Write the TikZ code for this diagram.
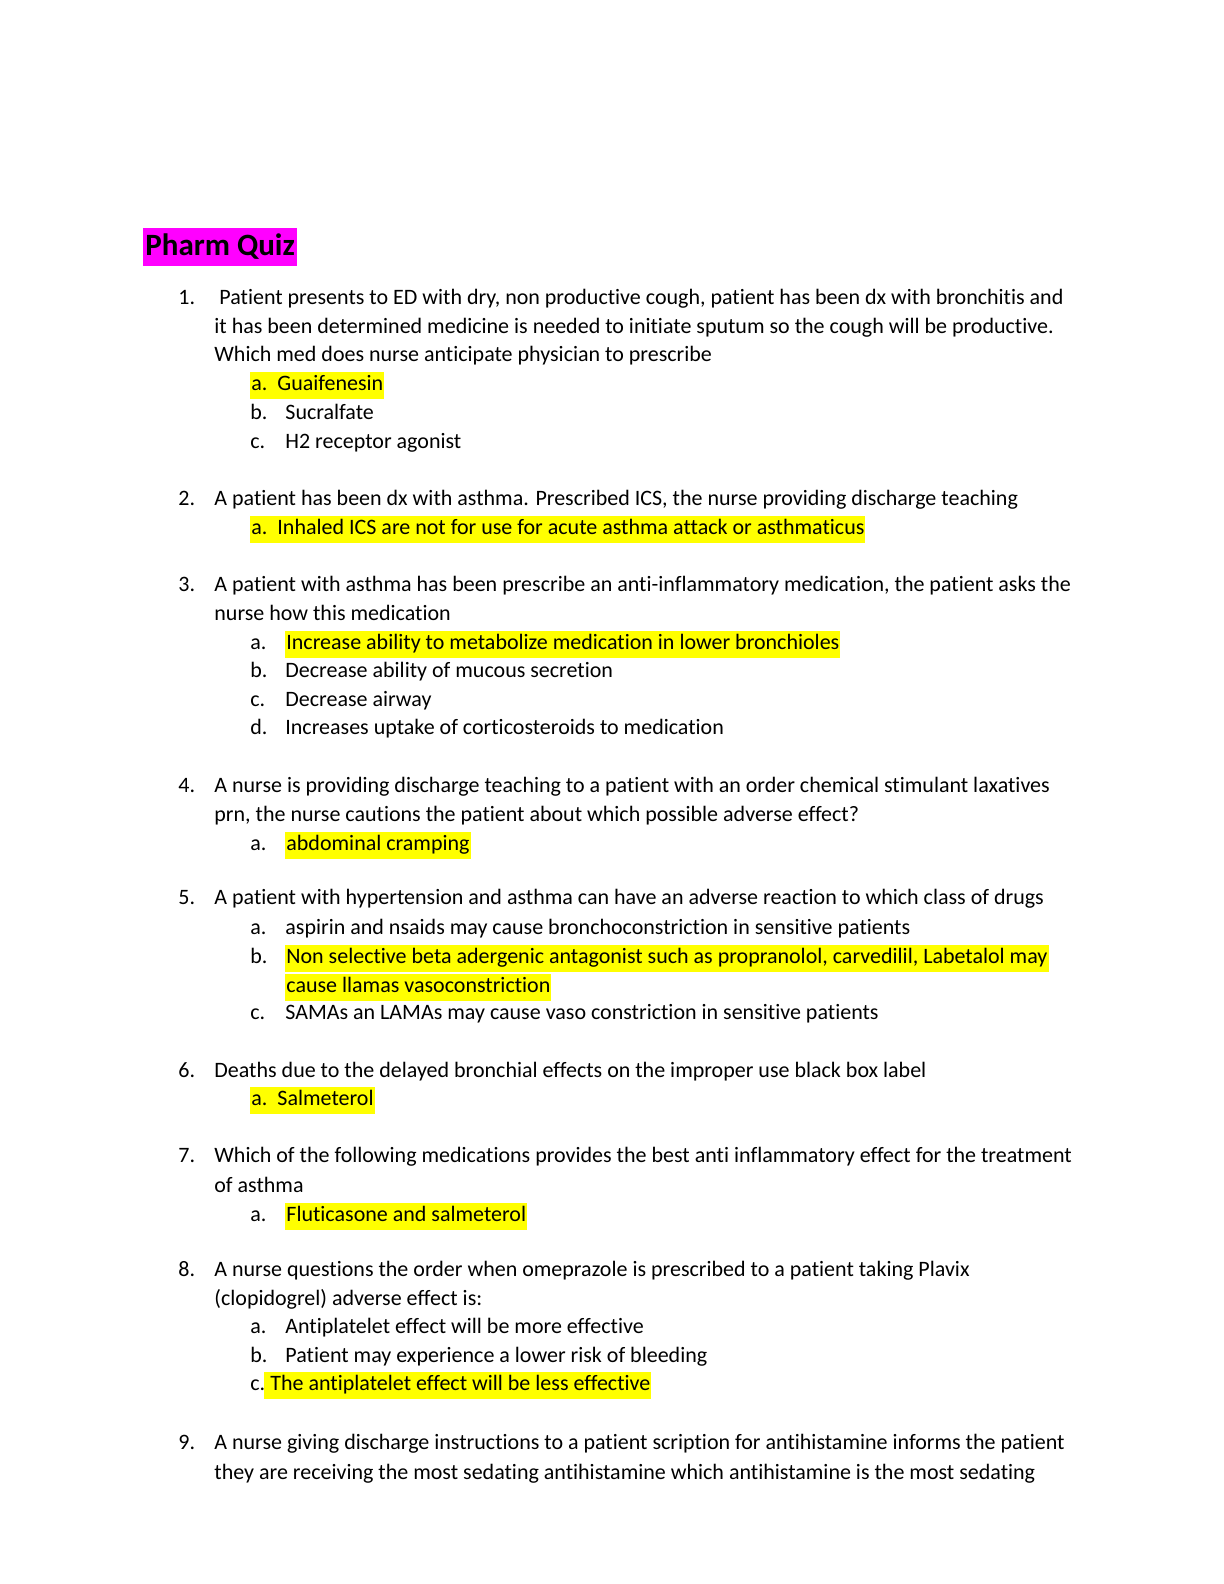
\documentclass[tikz,border=0pt]{standalone}
\usepackage{fontspec}
\setmainfont{Carlito}[Ligatures={NoCommon,NoContextual}]
\usepackage{tikz}
\definecolor{hlpink}{RGB}{255,0,255}
\definecolor{hlyellow}{RGB}{255,255,0}

\begin{document}
\begin{tikzpicture}[x=0.5pt,y=-0.5pt,
  txt/.style={anchor=west,inner sep=0pt,font=\fontsize{11}{13}\selectfont,text height=8pt,text depth=2.5pt},
  hl/.style={txt,fill=hlyellow,inner xsep=0.5pt,inner ysep=1.5pt}]
\useasboundingbox (0,0) rectangle (1224,1584);

% title
\node[anchor=west,fill=hlpink,inner xsep=1pt,inner ysep=3pt,font=\fontsize{15.5}{18}\selectfont\bfseries] (title) at (143,247) {Pharm Quiz};

% question 1
\node[txt] (n1) at (178,299) {1.};
\node[txt] (q1a) at (219,299) {Patient presents to ED with dry, non productive cough, patient has been dx with bronchitis and};
\node[txt] (q1b) at (214,328) {it has been determined medicine is needed to initiate sputum so the cough will be productive.};
\node[txt] (q1c) at (214,356) {Which med does nurse anticipate physician to prescribe};
\node[hl] (a1a) at (250,385) {a.\ \ Guaifenesin};
\node[txt] (l1b) at (250,414) {b.};
\node[txt] (a1b) at (285,414) {Sucralfate};
\node[txt] (l1c) at (250,443) {c.};
\node[txt] (a1c) at (285,443) {H2 receptor agonist};

% question 2
\node[txt] (n2) at (178,500) {2.};
\node[txt] (q2a) at (214,500) {A patient has been dx with asthma. Prescribed ICS, the nurse providing discharge teaching};
\node[hl] (a2a) at (250,529) {a.\ \ Inhaled ICS are not for use for acute asthma attack or asthmaticus};

% question 3
\node[txt] (n3) at (178,586) {3.};
\node[txt] (q3a) at (214,586) {A patient with asthma has been prescribe an anti-inflammatory medication, the patient asks the};
\node[txt] (q3b) at (214,615) {nurse how this medication};
\node[txt] (l3a) at (250,644) {a.};
\node[hl] (a3a) at (285,644) {Increase ability to metabolize medication in lower bronchioles};
\node[txt] (l3b) at (250,672) {b.};
\node[txt] (a3b) at (285,672) {Decrease ability of mucous secretion};
\node[txt] (l3c) at (250,701) {c.};
\node[txt] (a3c) at (285,701) {Decrease airway};
\node[txt] (l3d) at (250,729) {d.};
\node[txt] (a3d) at (285,729) {Increases uptake of corticosteroids to medication};

% question 4
\node[txt] (n4) at (178,787) {4.};
\node[txt] (q4a) at (214,787) {A nurse is providing discharge teaching to a patient with an order chemical stimulant laxatives};
\node[txt] (q4b) at (214,816) {prn, the nurse cautions the patient about which possible adverse effect?};
\node[txt] (l4a) at (250,845) {a.};
\node[hl] (a4a) at (285,845) {abdominal cramping};

% question 5
\node[txt] (n5) at (178,899) {5.};
\node[txt] (q5a) at (214,899) {A patient with hypertension and asthma can have an adverse reaction to which class of drugs};
\node[txt] (l5a) at (250,929) {a.};
\node[txt] (a5a) at (285,929) {aspirin and nsaids may cause bronchoconstriction in sensitive patients};
\node[txt] (l5b) at (250,958) {b.};
\node[hl] (a5b) at (285,958) {Non selective beta adergenic antagonist such as propranolol, carvedilil, Labetalol may};
\node[hl] (a5c) at (285,987) {cause llamas vasoconstriction};
\node[txt] (l5c) at (250,1014) {c.};
\node[txt] (a5d) at (285,1014) {SAMAs an LAMAs may cause vaso constriction in sensitive patients};

% question 6
\node[txt] (n6) at (178,1072) {6.};
\node[txt] (q6a) at (214,1072) {Deaths due to the delayed bronchial effects on the improper use black box label};
\node[hl] (a6a) at (250,1100) {a.\ \ Salmeterol};

% question 7
\node[txt] (n7) at (178,1157) {7.};
\node[txt] (q7a) at (214,1157) {Which of the following medications provides the best anti inflammatory effect for the treatment};
\node[txt] (q7b) at (214,1187) {of asthma};
\node[txt] (l7a) at (250,1216) {a.};
\node[hl] (a7a) at (285,1216) {Fluticasone and salmeterol};

% question 8
\node[txt] (n8) at (178,1271) {8.};
\node[txt] (q8a) at (214,1271) {A nurse questions the order when omeprazole is prescribed to a patient taking Plavix};
\node[txt] (q8b) at (214,1300) {(clopidogrel) adverse effect is:};
\node[txt] (l8a) at (250,1328) {a.};
\node[txt] (a8a) at (285,1328) {Antiplatelet effect will be more effective};
\node[txt] (l8b) at (250,1357) {b.};
\node[txt] (a8b) at (285,1357) {Patient may experience a lower risk of bleeding};
\node[txt] (l8c) at (250,1385) {c.};
\node[hl] (a8c) at (264,1385) {\ The antiplatelet effect will be less effective};

% question 9
\node[txt] (n9) at (178,1444) {9.};
\node[txt] (q9a) at (214,1444) {A nurse giving discharge instructions to a patient scription for antihistamine informs the patient};
\node[txt] (q9b) at (214,1474) {they are receiving the most sedating antihistamine which antihistamine is the most sedating};
\end{tikzpicture}
\end{document}
